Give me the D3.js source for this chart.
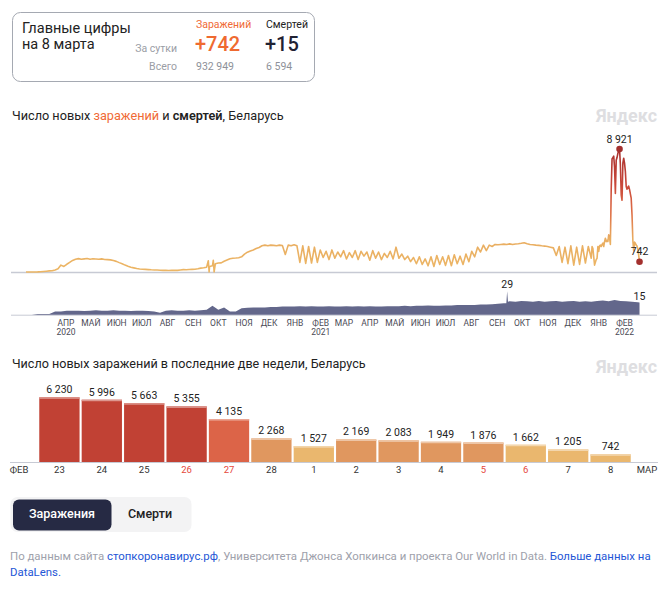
<!DOCTYPE html>
<html><head><meta charset="utf-8">
<script src="https://cdn.jsdelivr.net/npm/d3@7"></script>
<style>
body{margin:0;background:#fff;}
svg{font-family:Roboto,"Noto Sans",sans-serif;display:block;}
</style></head><body>
<svg id="c" width="665" height="597"></svg>
<script>
// ---------- DATA ----------
const casesStart = "2020-03-01";           // half-week samples (every 3.5 days)
const casesHalfWeek = [
  0,0,2,5,10,20,40,60,80,90,
  150,230,500,400,560,700,840,930,970,920,
  950,980,930,960,940,920,950,910,900,880,
  830,770,680,600,500,420,350,300,250,220,
  200,190,175,160,150,140,130,120,120,110,
  120,130,120,150,170,160,180,190,200,230,
  280,310,350,400,450,600,650,660,780,870,
  960,1000,1010,1030,1100,1300,1440,1530,1600,1700,
  1780,1900,1950,1900,1950,1930,1900,1950,1920,1270,
  1950,1900,1980,1900,700,1900,620,1850,650,1800,
  700,1600,1050,1500,900,1600,1000,1450,1100,1550,
  950,1400,1050,1550,900,1500,1150,1450,850,1550,
  1000,1450,900,1350,1050,1500,950,1800,1000,1300,
  900,1150,750,1050,600,1100,550,950,450,1100,
  400,1200,550,1100,480,1200,450,1250,600,1150,
  550,1300,750,1500,1100,1800,1450,1950,1550,1950,
  1850,2000,1980,2000,2020,2000,2040,2000,2030,2050,
  2080,2120,2050,2000,1980,1950,1930,1900,1880,1850,
  1800,1750,1200,1850,700,1800,600,1900,500,1800,
  550,1900,650,1850,1000
];
const casesSpikes = [["2020-10-06",820],["2020-10-07",0],["2020-10-12",850],["2020-10-13",0]];
const casesDailyStart = "2022-01-10";      // daily, Jan 10 – Feb 22 2022
const casesDaily = [
  1850,1700,1100,500,700,900,1000,1850,1500,1900,1950,1850,2000,2100,1850,2200,2450,2200,2300,2200,2700,2500,
  2000,6000,8200,8300,8400,7600,5700,8100,8300,8600,8800,8921,7800,5600,5200,7900,8250,7900,7300,6200,6000,6150
];
const deathsStart = "2020-03-01";          // weekly samples
const deathsWeekly = [
  0,0,1,1,1,4,4,5,5,5,
  4.5,5,5.5,5,5,5.5,5,5,4.5,5,
  5,4.5,4,2.5,5,5.5,5,5,5.5,5,
  5.5,6,11,6,9,4,4,8,8.5,9,
  9,9,9.5,9.5,10,10,10,10.5,10,10.5,
  10,10,10.5,10,10,10.5,10,10.5,10,10.5,
  10,10,10.5,10.5,10.5,11,10.5,11,11,11.5,
  11,11,11.5,11.5,12,12,12,12,12.5,12.5,
  13,13.5,14,16.5,16,17,16.5,16,17,16,
  16.5,17,16,16.5,17,16,16.5,16,17,17.5,
  16.5,18,17,16.5,16,15.5
];
const deathsExtra = [["2021-09-29",14],["2021-09-30",29],["2021-10-01",16],["2022-03-08",15]];
const monthNames = ["АПР","МАЙ","ИЮН","ИЮЛ","АВГ","СЕН","ОКТ","НОЯ","ДЕК","ЯНВ","ФЕВ","МАР",
                    "АПР","МАЙ","ИЮН","ИЮЛ","АВГ","СЕН","ОКТ","НОЯ","ДЕК","ЯНВ","ФЕВ"];
const monthYears = {0:"2020",10:"2021",22:"2022"};
const barDays = ["23","24","25","26","27","28","1","2","3","4","5","6","7","8"];
const barValues = [6230,5996,5663,5355,4135,2268,1527,2169,2083,1949,1876,1662,1205,742];
const weekendDays = ["26","27","5","6"];
const summary = {date:"на 8 марта", casesDay:"+742", deathsDay:"+15", casesTotal:"932 949", deathsTotal:"6 594"};

// ---------- BUILD SERIES ----------
const DAY = 864e5;
const parse = d3.utcParse("%Y-%m-%d");
const cases = [];
const c0 = parse(casesStart);
casesHalfWeek.forEach((v,i)=>cases.push({date:new Date(+c0 + i*3.5*DAY), value:v}));
const cd0 = parse(casesDailyStart);
casesDaily.concat(barValues).forEach((v,i)=>cases.push({date:new Date(+cd0 + i*DAY), value:v}));
casesSpikes.forEach(([d,v])=>cases.push({date:parse(d), value:v}));
cases.sort((a,b)=>a.date-b.date);

const deaths = [];
const d0 = parse(deathsStart);
deathsWeekly.forEach((v,i)=>deaths.push({date:new Date(+d0 + i*7*DAY), value:v}));
deathsExtra.forEach(([d,v])=>deaths.push({date:parse(d), value:v}));
deaths.sort((a,b)=>a.date-b.date);

// ---------- DRAW ----------
const svg = d3.select("#c");
const dark = "#222";

// rich text line made of separate text segments, scaled to fit a width
function richLine(x, y, size, width, segs){
  const nodes = segs.map(s=>svg.append("text").attr("y",y).attr("font-size",size)
    .attr("fill",s.fill).attr("font-weight",s.weight||400).text(s.t.replace(/ /g,"\u00a0")));
  let total = d3.sum(nodes, n=>n.node().getComputedTextLength());
  const fs = width ? size*Math.min(1.05, width/total) : size;
  nodes.forEach(n=>n.attr("font-size",fs));
  let cx = x;
  nodes.forEach(n=>{ n.attr("x",cx); cx += n.node().getComputedTextLength(); });
}

// summary box
svg.append("rect").attr("x",12.5).attr("y",12.5).attr("width",302).attr("height",69).attr("rx",8)
  .attr("fill","none").attr("stroke","#a5a9b2");
const T = (x,y,t,size,fill,anchor,weight)=>svg.append("text").attr("x",x).attr("y",y).text(t)
  .attr("font-size",size).attr("fill",fill).attr("text-anchor",anchor||"start").attr("font-weight",weight||400);
T(22,33,"Главные цифры",14.5,dark);
T(22,49,summary.date,14.5,dark);
T(196,28,"Заражений",10.5,"#f06a36");
T(266,28,"Смертей",10.5,dark);
T(177,51.5,"За сутки",10.5,"#9a9da5","end");
T(195,51,summary.casesDay,20,"#ef6a30","start",500);
T(265,51,summary.deathsDay,20,"#1f2233","start",500);
T(177,70,"Всего",10.5,"#9a9da5","end");
T(196,70,summary.casesTotal,10.5,"#8e9199");
T(266,70,summary.deathsTotal,10.5,"#8e9199");

// titles
richLine(12, 119.5, 13, 272, [
  {t:"Число новых ", fill:dark},
  {t:"заражений", fill:"#f06a36"},
  {t:" и ", fill:dark},
  {t:"смертей", fill:dark, weight:600},
  {t:", Беларусь", fill:dark}
]);
const wm = (y)=>svg.append("text").attr("x",657).attr("y",y).attr("text-anchor","end").text("Яндекс")
  .attr("font-size",18).attr("font-weight",700).attr("fill","#dedee1")
  .attr("textLength",61).attr("lengthAdjust","spacingAndGlyphs");
wm(122); wm(373);

// scales
const x = d3.scaleUtc().domain([parse("2020-02-12"), parse("2022-03-29")]).range([11,657]);
const yC = d3.scaleLinear().domain([0,8921]).range([272,149]);
const yD = d3.scaleLinear().domain([0,29]).range([314.7,291.2]);

// gradient for cases line
const defs = svg.append("defs");
const grad = defs.append("linearGradient").attr("id","cg").attr("gradientUnits","userSpaceOnUse")
  .attr("x1",0).attr("x2",0).attr("y1",yC(0)).attr("y2",yC(8921));
[[0,"#ecb665"],[2400,"#e9ad61"],[4300,"#de6f47"],[6300,"#c9483a"],[8921,"#a8302d"]].forEach(([v,c])=>
  grad.append("stop").attr("offset",v/8921).attr("stop-color",c));

// baselines
svg.append("line").attr("x1",11).attr("x2",657).attr("y1",272.5).attr("y2",272.5).attr("stroke","#c7cad4").attr("stroke-width",1.5);
svg.append("line").attr("x1",11).attr("x2",657).attr("y1",315.2).attr("y2",315.2).attr("stroke","#c7cad4").attr("stroke-width",1);

// cases line
svg.append("path").datum(cases).attr("fill","none").attr("stroke","url(#cg)").attr("stroke-width",1.6)
  .attr("stroke-linejoin","round")
  .attr("d",d3.line().x(d=>x(d.date)).y(d=>yC(d.value)));
const peak = cases.reduce((a,b)=>b.value>a.value?b:a);
const last = cases[cases.length-1];
[peak,last].forEach(p=>{
  svg.append("circle").attr("cx",x(p.date)).attr("cy",yC(p.value)).attr("r",3.3).attr("fill","#a3302e");
  svg.append("text").attr("x",x(p.date)).attr("y",yC(p.value)-6.5).attr("text-anchor","middle")
    .attr("font-size",10.5).attr("fill",dark).text(d3.format(",")(p.value).replace(/,/g," "));
});

// deaths area
svg.append("path").datum(deaths).attr("fill","#63678b")
  .attr("d",d3.area().x(d=>x(d.date)).y0(yD(0)).y1(d=>yD(d.value)));
const dPeak = deaths.reduce((a,b)=>b.value>a.value?b:a);
const dLast = deaths[deaths.length-1];
[dPeak,dLast].forEach(p=>{
  svg.append("text").attr("x",x(p.date)).attr("y",yD(p.value)-3).attr("text-anchor","middle")
    .attr("font-size",10.5).attr("fill",dark).text(p.value);
});

// month labels
monthNames.forEach((m,i)=>{
  const dt = new Date(Date.UTC(2020,3+i,1) + 17*DAY);
  svg.append("text").attr("x",x(dt)).attr("y",326).attr("text-anchor","middle")
    .attr("font-size",8.5).attr("fill","#4a4a55").text(m);
  if(monthYears[i]) svg.append("text").attr("x",x(dt)).attr("y",335).attr("text-anchor","middle")
    .attr("font-size",8.5).attr("fill","#4a4a55").text(monthYears[i]);
});

// bar chart
richLine(12, 367.5, 13, 354, [{t:"Число новых заражений в последние две недели, Беларусь", fill:dark}]);
const xb = d3.scaleBand().domain(barDays).range([38,632]).paddingInner(0.05).paddingOuter(0.03);
const yB = d3.scaleLinear().domain([0,6230]).range([462,397.3]);
const color = d3.scaleThreshold().domain([1700,4000,5000]).range(["#eab76e","#e0975f","#dc6448","#c14134"]);
const bars = svg.append("g");
barDays.forEach((d,i)=>{
  const v = barValues[i], c = color(v);
  bars.append("rect").attr("x",xb(d)).attr("y",yB(v)).attr("width",xb.bandwidth()).attr("height",yB(0)-yB(v)).attr("fill",c);
  bars.append("rect").attr("x",xb(d)).attr("y",yB(v)).attr("width",xb.bandwidth()).attr("height",1.5)
    .attr("fill",d3.interpolateRgb(c,"#fff")(0.45));
  bars.append("text").attr("x",xb(d)+xb.bandwidth()/2).attr("y",yB(v)-4).attr("text-anchor","middle")
    .attr("font-size",10.5).attr("fill",dark).text(d3.format(",")(v).replace(/,/g," "));
  bars.append("text").attr("x",xb(d)+xb.bandwidth()/2).attr("y",473).attr("text-anchor","middle")
    .attr("font-size",9.5).attr("fill",weekendDays.includes(d)?"#e5473b":"#333").text(d);
});
svg.append("line").attr("x1",10).attr("x2",658).attr("y1",462.5).attr("y2",462.5).attr("stroke","#c7cad4").attr("stroke-width",1.2);
svg.append("text").attr("x",19).attr("y",473).attr("text-anchor","middle").attr("font-size",9.5).attr("fill","#333").text("ФЕВ");
svg.append("text").attr("x",647).attr("y",473).attr("text-anchor","middle").attr("font-size",9.5).attr("fill","#333").text("МАР");

// buttons
svg.append("rect").attr("x",10.5).attr("y",497).attr("width",181).attr("height",35).attr("rx",7).attr("fill","#f3f3f4");
svg.append("rect").attr("x",13).attr("y",499.5).attr("width",98.5).attr("height",31).attr("rx",6).attr("fill","#262a44");
T(62,518,"Заражения",12.5,"#fff","middle",500);
T(150,518,"Смерти",12.5,dark,"middle",500);

// footer
const grey="#9ea1ab", blue="#2456d6";
richLine(10, 560, 12, 641, [
  {t:"По данным сайта ", fill:grey},
  {t:"стопкоронавирус.рф", fill:blue},
  {t:", Университета Джонса Хопкинса и проекта Our World in Data. ", fill:grey},
  {t:"Больше данных на", fill:blue}
]);
svg.append("text").attr("x",10).attr("y",576).attr("font-size",11.4).attr("fill",blue).text("DataLens.");
</script>
</body></html>
